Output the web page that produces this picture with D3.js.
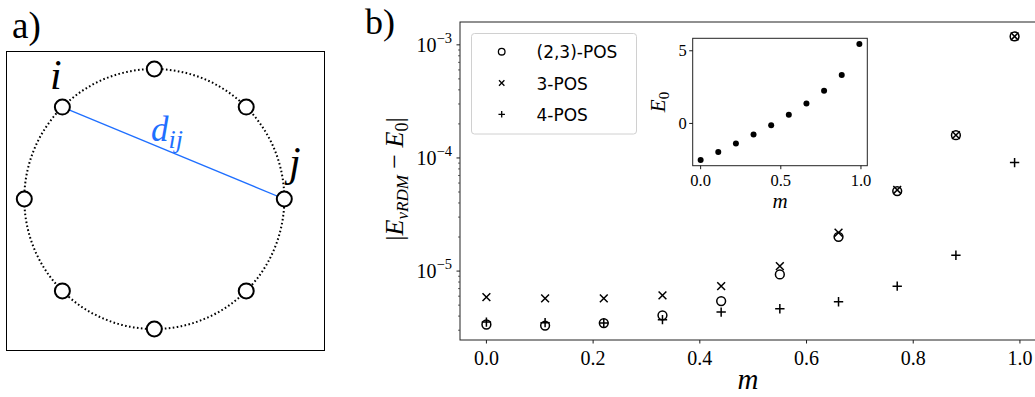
<!DOCTYPE html>
<html>
<head>
<meta charset="utf-8">
<script src="https://cdn.jsdelivr.net/npm/d3@7"></script>
<style>
  html, body { margin: 0; padding: 0; background: #fff; }
  svg { display: block; }
  .serif { font-family: "Liberation Serif", "DejaVu Serif", serif; }
  .sans { font-family: "DejaVu Sans", sans-serif; }
</style>
</head>
<body>
<svg id="fig" width="1035" height="397"></svg>
<script>
// ---- data ----
const mValues = [0.0, 0.11, 0.22, 0.33, 0.44, 0.55, 0.66, 0.77, 0.88, 0.99];
const pos23 = [3.37e-6, 3.30e-6, 3.47e-6, 4.06e-6, 5.43e-6, 9.35e-6, 2.01e-5, 5.10e-5, 1.59e-4, 1.186e-3];
const pos3  = [5.89e-6, 5.73e-6, 5.73e-6, 6.09e-6, 7.36e-6, 1.107e-5, 2.19e-5, 5.21e-5, 1.59e-4, 1.186e-3];
const pos4  = [3.54e-6, 3.50e-6, 3.47e-6, 3.72e-6, 4.34e-6, 4.65e-6, 5.36e-6, 7.36e-6, 1.38e-5, 9.1e-5];
const groundEnergy = [-2.51, -1.96, -1.38, -0.76, -0.12, 0.59, 1.38, 2.25, 3.34, 5.46];
const seriesNames = ["(2,3)-POS", "3-POS", "4-POS"];
const mainXTicks = [0.0, 0.2, 0.4, 0.6, 0.8, 1.0];
const mainYTicks = [-5, -4, -3];           // decade exponents
const insetXTicks = [0.0, 0.5, 1.0];
const insetYTicks = [0, 5];
const ringSites = 8;

const svg = d3.select("#fig");

// ---- panel a: ring of sites ----
const pa = svg.append("g");
pa.append("text").attr("class", "serif").attr("x", 12).attr("y", 38)
  .attr("font-size", 37).text("a)");
pa.append("rect").attr("x", 6.5).attr("y", 51.5).attr("width", 318).attr("height", 299)
  .attr("fill", "none").attr("stroke", "#000").attr("stroke-width", 1);

const cx = 154.3, cy = 199, R = 130;
pa.append("circle").attr("cx", cx).attr("cy", cy).attr("r", R)
  .attr("fill", "none").attr("stroke", "#000").attr("stroke-width", 2)
  .attr("stroke-dasharray", "1.6,2.4");

const angle = d3.scaleLinear().domain([0, ringSites]).range([0, 2 * Math.PI]);
const sites = d3.range(ringSites).map(k => ({
  x: cx + R * Math.sin(angle(k)),
  y: cy - R * Math.cos(angle(k))
}));
const si = sites[7], sj = sites[2];
pa.append("line").attr("x1", si.x).attr("y1", si.y).attr("x2", sj.x).attr("y2", sj.y)
  .attr("stroke", "#1f6fff").attr("stroke-width", 1.3);
pa.selectAll("circle.site").data(sites).join("circle").attr("class", "site")
  .attr("cx", d => d.x).attr("cy", d => d.y).attr("r", 7.5)
  .attr("fill", "#fff").attr("stroke", "#000").attr("stroke-width", 2);

pa.append("text").attr("class", "serif").attr("x", 50).attr("y", 89)
  .attr("font-size", 42).attr("font-style", "italic").text("i");
pa.append("text").attr("class", "serif").attr("x", 289).attr("y", 176)
  .attr("font-size", 42).attr("font-style", "italic").text("j");
const dl = pa.append("text").attr("class", "serif").attr("x", 151).attr("y", 141)
  .attr("font-size", 35).attr("font-style", "italic").attr("fill", "#1f6fff");
dl.append("tspan").text("d");
dl.append("tspan").attr("font-size", 26).attr("dy", 7).text("ij");

// ---- panel b: main log plot ----
svg.append("text").attr("class", "serif").attr("x", 365).attr("y", 34)
  .attr("font-size", 36).text("b)");

const L = 460, T = 22, Rt = 1041, B = 340;
const logs = pos23.concat(pos3, pos4).map(Math.log10);
const lmin = d3.min(logs), lmax = d3.max(logs), lpad = 0.05 * (lmax - lmin);
const xpad = 0.05 * (d3.max(mValues) - d3.min(mValues));

const x = d3.scaleLinear().domain([d3.min(mValues) - xpad, d3.max(mValues) + xpad]).range([L, Rt]);
const y = d3.scaleLog().domain([Math.pow(10, lmin - lpad), Math.pow(10, lmax + lpad)]).range([B, T]);

const main = svg.append("g");

// minor log ticks
const minor = [];
for (let e = -6; e <= -2; e++) for (let k = 2; k <= 9; k++) {
  const v = k * Math.pow(10, e);
  if (v >= y.domain()[0] && v <= y.domain()[1]) minor.push(v);
}
main.selectAll("line.minor").data(minor).join("line")
  .attr("x1", L - 2).attr("x2", L).attr("y1", d => y(d)).attr("y2", d => y(d))
  .attr("stroke", "#000").attr("stroke-width", 0.6);
main.selectAll("line.major").data(mainYTicks).join("line")
  .attr("x1", L - 3.5).attr("x2", L).attr("y1", d => y(Math.pow(10, d))).attr("y2", d => y(Math.pow(10, d)))
  .attr("stroke", "#000").attr("stroke-width", 0.9);
const yl = main.selectAll("text.ytick").data(mainYTicks).join("text")
  .attr("class", "serif").attr("text-anchor", "end")
  .attr("x", L - 8).attr("y", d => y(Math.pow(10, d)) + 7).attr("font-size", 20);
yl.append("tspan").text("10");
yl.append("tspan").attr("font-size", 14.5).attr("dy", -9).text(d => "\u2212" + (-d));

// x ticks
main.selectAll("line.xt").data(mainXTicks).join("line")
  .attr("x1", d => x(d)).attr("x2", d => x(d)).attr("y1", B).attr("y2", B + 3.5)
  .attr("stroke", "#000").attr("stroke-width", 0.9);
main.selectAll("text.xt").data(mainXTicks).join("text")
  .attr("class", "serif").attr("text-anchor", "middle")
  .attr("x", d => x(d)).attr("y", B + 24.5).attr("font-size", 20)
  .text(d => d.toFixed(1));

// frame
main.append("rect").attr("x", L).attr("y", T).attr("width", Rt - L).attr("height", B - T)
  .attr("fill", "none").attr("stroke", "#222").attr("stroke-width", 1);

// axis labels
main.append("text").attr("class", "serif").attr("x", 748).attr("y", 389)
  .attr("font-size", 29).attr("font-style", "italic").attr("text-anchor", "middle").text("m");
const ylab = main.append("text").attr("class", "serif")
  .attr("transform", "translate(403,179) rotate(-90)")
  .attr("text-anchor", "middle").attr("font-size", 26);
ylab.append("tspan").text("|");
ylab.append("tspan").attr("font-style", "italic").text("E");
ylab.append("tspan").attr("font-style", "italic").attr("font-size", 17).attr("dy", 5).text("vRDM");
ylab.append("tspan").attr("dy", -5).text(" \u2212 ");
ylab.append("tspan").attr("font-style", "italic").text("E");
ylab.append("tspan").attr("font-size", 18).attr("dy", 5).text("0");
ylab.append("tspan").attr("dy", -5).text("|");

// markers
function drawMarker(g, kind, px, py, s, sw) {
  if (kind === 0) {
    g.append("circle").attr("cx", px).attr("cy", py).attr("r", s)
      .attr("fill", "none").attr("stroke", "#000").attr("stroke-width", sw);
  } else if (kind === 1) {
    g.append("path").attr("d", `M${px - s},${py - s}L${px + s},${py + s}M${px - s},${py + s}L${px + s},${py - s}`)
      .attr("stroke", "#000").attr("stroke-width", sw);
  } else {
    const t = s * 1.2;
    g.append("path").attr("d", `M${px - t},${py}L${px + t},${py}M${px},${py - t}L${px},${py + t}`)
      .attr("stroke", "#000").attr("stroke-width", sw);
  }
}
const pts = main.append("g");
[pos23, pos3, pos4].forEach((ser, k) => {
  ser.forEach((v, i) => drawMarker(pts, k, x(mValues[i]), y(v), k === 0 ? 4.4 : 3.9, 1.5));
});

// legend
const lg = main.append("g");
lg.append("rect").attr("x", 471.5).attr("y", 33.5).attr("width", 165).attr("height", 100.5)
  .attr("rx", 3).attr("fill", "#fff").attr("fill-opacity", 0.8)
  .attr("stroke", "#d0d0d0").attr("stroke-width", 1);
seriesNames.forEach((name, k) => {
  const ly = 51.7 + k * 31.3;
  drawMarker(lg, k, 501.7, ly, k === 0 ? 3.3 : 2.7, 1.3);
  lg.append("text").attr("class", "sans").attr("x", 536.5).attr("y", ly + 6.5)
    .attr("font-size", 17).text(name);
});

// ---- inset: ground-state energy ----
const iL = 692.7, iR = 867.3, iT = 38.3, iB = 165.7;
const epad = 0.05 * (d3.max(groundEnergy) - d3.min(groundEnergy));
const xi = d3.scaleLinear().domain(x.domain()).range([iL, iR]);
const yi = d3.scaleLinear().domain([d3.min(groundEnergy) - epad, d3.max(groundEnergy) + epad]).range([iB, iT]);
const ins = svg.append("g");
ins.append("rect").attr("x", iL).attr("y", iT).attr("width", iR - iL).attr("height", iB - iT)
  .attr("fill", "#fff").attr("stroke", "#222").attr("stroke-width", 1);
ins.selectAll("line.ixt").data(insetXTicks).join("line")
  .attr("x1", d => xi(d)).attr("x2", d => xi(d)).attr("y1", iB).attr("y2", iB + 3.5)
  .attr("stroke", "#000").attr("stroke-width", 0.9);
ins.selectAll("text.ixt").data(insetXTicks).join("text").attr("class", "serif")
  .attr("text-anchor", "middle").attr("x", d => xi(d)).attr("y", iB + 20)
  .attr("font-size", 16.5).text(d => d.toFixed(1));
ins.selectAll("line.iyt").data(insetYTicks).join("line")
  .attr("x1", iL - 3.5).attr("x2", iL).attr("y1", d => yi(d)).attr("y2", d => yi(d))
  .attr("stroke", "#000").attr("stroke-width", 0.9);
ins.selectAll("text.iyt").data(insetYTicks).join("text").attr("class", "serif")
  .attr("text-anchor", "end").attr("x", iL - 6).attr("y", d => yi(d) + 5.5)
  .attr("font-size", 16.5).text(d => d);
ins.append("text").attr("class", "serif").attr("x", 780).attr("y", 208)
  .attr("font-size", 21).attr("font-style", "italic").attr("text-anchor", "middle").text("m");
const e0 = ins.append("text").attr("class", "serif")
  .attr("transform", "translate(665,102) rotate(-90)")
  .attr("text-anchor", "middle").attr("font-size", 21).attr("font-style", "italic");
e0.append("tspan").text("E");
e0.append("tspan").attr("font-style", "normal").attr("font-size", 15).attr("dy", 4).text("0");
ins.selectAll("circle.e").data(mValues).join("circle")
  .attr("cx", d => xi(d)).attr("cy", (d, i) => yi(groundEnergy[i])).attr("r", 3)
  .attr("fill", "#000");
</script>
</body>
</html>
